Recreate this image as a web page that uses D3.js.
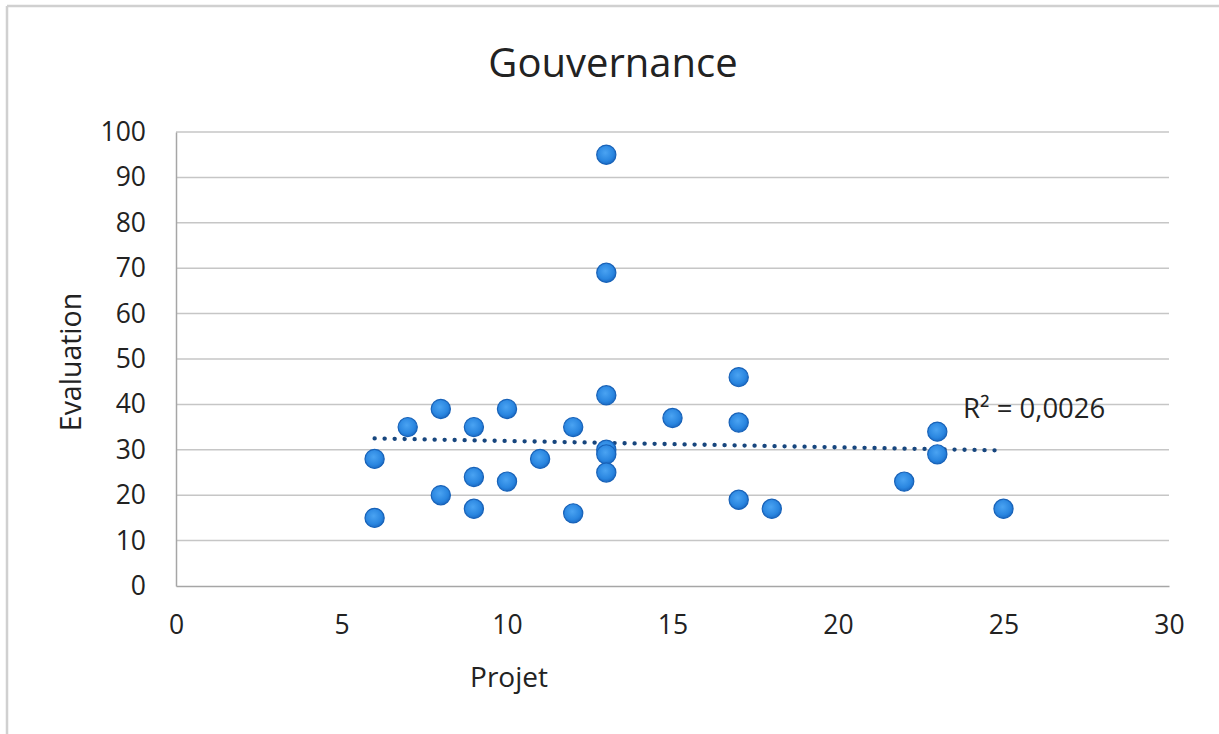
<!DOCTYPE html>
<html>
<head>
<meta charset="utf-8">
<script src="https://cdn.jsdelivr.net/npm/d3@7"></script>
<style>
  html, body { margin: 0; padding: 0; background: #fff; }
  svg { display: block; }
  text { font-family: "Open Sans", sans-serif; fill: #222; }
</style>
</head>
<body>
<svg id="chart" width="1219" height="734"></svg>
<script>
const title = "Gouvernance";
const xLabel = "Projet";
const yLabel = "Evaluation";
const r2Label = "R² = 0,0026";
const projet =     [6, 6, 7, 8, 8, 9, 9, 9, 10, 10, 11, 12, 12, 13, 13, 13, 13, 13, 13, 15, 17, 17, 17, 18, 22, 23, 23, 25];
const evaluation = [28, 15, 35, 39, 20, 35, 24, 17, 39, 23, 28, 35, 16, 95, 69, 42, 30, 29, 25, 37, 46, 36, 19, 17, 23, 34, 29, 17];
// linear trendline as drawn (end values)
const trendX = [6, 25];
const trendY = [32.5, 29.85];
const xTicks = [0, 5, 10, 15, 20, 25, 30];
const yTicks = [0, 10, 20, 30, 40, 50, 60, 70, 80, 90, 100];

(function () {
const svg = d3.select("#chart");
const W = 1219, H = 734;
const pLeft = 176, pRight = 1169, pTop = 132, pBottom = 586;

const x = d3.scaleLinear().domain([0, 30]).range([pLeft, pRight]);
const y = d3.scaleLinear().domain([0, 100]).range([pBottom, pTop]);

// outer frame (top & left)
svg.append("line").attr("x1", 7).attr("x2", W).attr("y1", 6).attr("y2", 6)
  .attr("stroke", "#d0d0d0").attr("stroke-width", 2.5);
svg.append("line").attr("x1", 7).attr("x2", 7).attr("y1", 6).attr("y2", H)
  .attr("stroke", "#d0d0d0").attr("stroke-width", 2.5);

// gradient
const defs = svg.append("defs");
const grad = defs.append("radialGradient").attr("id", "mk").attr("cx", "45%").attr("cy", "40%").attr("r", "60%");
grad.append("stop").attr("offset", "0%").attr("stop-color", "#4aa3f2");
grad.append("stop").attr("offset", "70%").attr("stop-color", "#2a86e0");
grad.append("stop").attr("offset", "100%").attr("stop-color", "#1b6cc6");

// gridlines
svg.append("g").selectAll("line").data(yTicks.filter(d => d > 0)).join("line")
  .attr("x1", pLeft).attr("x2", pRight)
  .attr("y1", d => y(d)).attr("y2", d => y(d))
  .attr("stroke", "#c6c6c6").attr("stroke-width", 1.5);

// axes
const yAxis = d3.axisLeft(y).tickValues(yTicks).tickSize(0).tickPadding(30);
const gy = svg.append("g").attr("transform", `translate(${pLeft},0)`).call(yAxis);
gy.select(".domain").attr("stroke", "#a6a6a6").attr("stroke-width", 1.5);
gy.selectAll("text").style("font-size", "26.5px").style("font-family", "Open Sans, sans-serif").attr("fill", "#222");

const xAxis = d3.axisBottom(x).tickValues(xTicks).tickSize(0).tickPadding(29);
const gx = svg.append("g").attr("transform", `translate(0,${pBottom})`).call(xAxis);
gx.select(".domain").attr("stroke", "#a6a6a6").attr("stroke-width", 1.5);
gx.selectAll("text").style("font-size", "26.5px").style("font-family", "Open Sans, sans-serif").attr("fill", "#222");

// trendline
svg.append("line")
  .attr("x1", x(trendX[0])).attr("y1", y(trendY[0]))
  .attr("x2", x(trendX[1])).attr("y2", y(trendY[1]))
  .attr("stroke", "#17467e").attr("stroke-width", 4.3)
  .attr("stroke-linecap", "round").attr("stroke-dasharray", "0.1 9.9");

// points
svg.append("g").selectAll("circle").data(projet.map((p, i) => [p, evaluation[i]])).join("circle")
  .attr("cx", d => x(d[0])).attr("cy", d => y(d[1])).attr("r", 9.6)
  .attr("fill", "url(#mk)").attr("stroke", "#1862b8").attr("stroke-width", 1.2);

// R² label
svg.append("text").attr("x", 963).attr("y", 418).style("font-size", "27.5px").text(r2Label);

// titles
svg.append("text").attr("x", 613).attr("y", 77).attr("text-anchor", "middle")
  .style("font-size", "40px").text(title);
svg.append("text").attr("x", 509).attr("y", 687).attr("text-anchor", "middle")
  .style("font-size", "28px").text(xLabel);
svg.append("text").attr("transform", "translate(81,362) rotate(-90)").attr("text-anchor", "middle")
  .style("font-size", "28.5px").text(yLabel);
})();
</script>
</body>
</html>
